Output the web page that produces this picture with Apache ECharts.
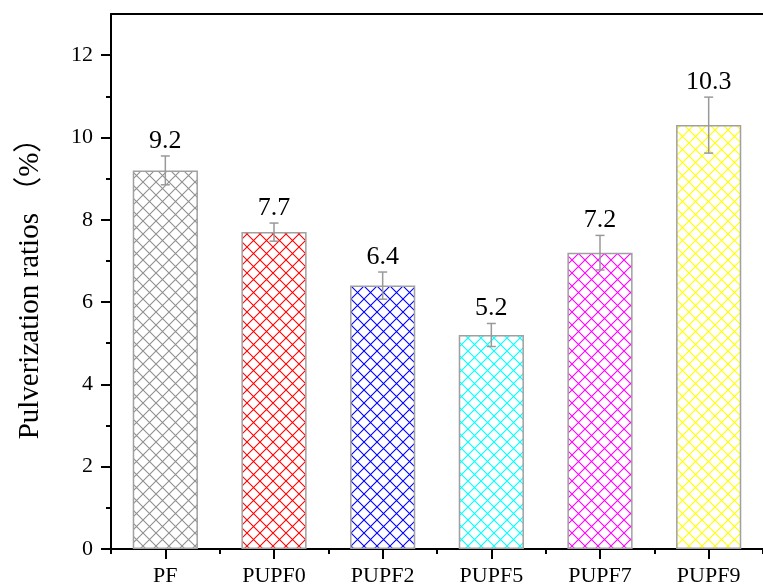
<!DOCTYPE html>
<html>
<head>
<meta charset="utf-8">
<script src="https://cdn.jsdelivr.net/npm/echarts@6/dist/echarts.min.js"></script>
<style>
html,body{margin:0;padding:0;background:#fff;}
#chart{width:763px;height:588px;}
</style>
</head>
<body>
<div id="chart"></div>
<script>
const categories = ['PF', 'PUPF0', 'PUPF2', 'PUPF5', 'PUPF7', 'PUPF9'];
const values = [9.2, 7.7, 6.4, 5.2, 7.2, 10.3];
const errors = [0.35, 0.22, 0.33, 0.28, 0.42, 0.68];
const hatchColors = ['#909090', '#ff0000', '#0000ff', '#00ffff', '#ff00ff', '#ffff00'];
const yMajorTicks = [0, 2, 4, 6, 8, 10, 12];
const yMinorTicks = [1, 3, 5, 7, 9, 11];

const FONT = '"Liberation Serif", "Times New Roman", serif';

function hatch(color) {
  const s = 13;
  const c = document.createElement('canvas');
  c.width = s; c.height = s;
  const g = c.getContext('2d');
  g.fillStyle = '#ffffff';
  g.fillRect(0, 0, s, s);
  g.strokeStyle = color;
  g.lineWidth = 1.1;
  g.beginPath();
  g.moveTo(-1, -1); g.lineTo(s + 1, s + 1);
  g.moveTo(s + 1, -1); g.lineTo(-1, s + 1);
  g.stroke();
  return c;
}

const chart = echarts.init(document.getElementById('chart'));

const barData = values.map((v, i) => ({
  value: v,
  itemStyle: {
    color: { image: hatch(hatchColors[i]), repeat: 'repeat' },
    borderColor: '#a0a0a0',
    borderWidth: 1.5
  }
}));

const errData = values.map((v, i) => [i, v, errors[i]]);

const option = {
  animation: false,
  backgroundColor: '#ffffff',
  grid: { left: 111, right: 0, top: 14, bottom: 39, containLabel: false },
  xAxis: [
    {
      type: 'category',
      data: categories,
      position: 'bottom',
      boundaryGap: true,
      axisLine: { show: true, lineStyle: { color: '#000', width: 2 } },
      axisTick: { show: true, alignWithLabel: true, length: 10, inside: false, lineStyle: { color: '#000', width: 2 } },
      axisLabel: { show: true, margin: 16, fontFamily: FONT, fontSize: 22, color: '#000' },
      splitLine: { show: false }
    },
    {
      type: 'category',
      data: categories,
      position: 'bottom',
      boundaryGap: true,
      axisLine: { show: false },
      axisTick: { show: true, alignWithLabel: false, length: 5, lineStyle: { color: '#000', width: 2 } },
      axisLabel: { show: false },
      splitLine: { show: false }
    },
    {
      type: 'category',
      data: categories,
      position: 'top',
      axisLine: { show: true, lineStyle: { color: '#000', width: 2 } },
      axisTick: { show: false },
      axisLabel: { show: false },
      splitLine: { show: false }
    }
  ],
  yAxis: [
    {
      type: 'value',
      min: 0,
      max: 13,
      position: 'left',
      name: 'Pulverization ratios （%）',
      nameLocation: 'middle',
      nameGap: 66,
      nameTextStyle: { fontFamily: FONT + ', "Noto Sans CJK SC"', fontSize: 29, color: '#000' },
      axisLine: { show: true, lineStyle: { color: '#000', width: 2 } },
      axisTick: { show: true, length: 10, customValues: yMajorTicks, lineStyle: { color: '#000', width: 2 } },
      axisLabel: { show: true, margin: 18, customValues: yMajorTicks, fontFamily: FONT, fontSize: 22, color: '#000' },
      splitLine: { show: false }
    },
    {
      type: 'value',
      min: 0,
      max: 13,
      position: 'left',
      axisLine: { show: false },
      axisTick: { show: true, length: 5, customValues: yMinorTicks, lineStyle: { color: '#000', width: 2 } },
      axisLabel: { show: false },
      splitLine: { show: false }
    }
  ],
  series: [
    {
      type: 'bar',
      xAxisIndex: 0,
      yAxisIndex: 0,
      barWidth: '60%',
      data: barData,
      z: 2
    },
    {
      type: 'custom',
      xAxisIndex: 0,
      yAxisIndex: 0,
      z: 5,
      data: errData,
      renderItem: function (params, api) {
        const i = api.value(0);
        const v = api.value(1);
        const e = api.value(2);
        const top = api.coord([i, v + e]);
        const bot = api.coord([i, v - e]);
        const half = 4.5;
        const st = { stroke: '#999999', lineWidth: 1.5 };
        return {
          type: 'group',
          children: [
            { type: 'line', shape: { x1: top[0], y1: top[1], x2: bot[0], y2: bot[1] }, style: st },
            { type: 'line', shape: { x1: top[0] - half, y1: top[1], x2: top[0] + half, y2: top[1] }, style: st },
            { type: 'line', shape: { x1: bot[0] - half, y1: bot[1], x2: bot[0] + half, y2: bot[1] }, style: st },
            {
              type: 'text',
              style: {
                x: top[0],
                y: top[1] - 2,
                text: String(v),
                fontFamily: FONT,
                fontSize: 26,
                fill: '#000',
                align: 'center',
                verticalAlign: 'bottom'
              }
            }
          ]
        };
      }
    }
  ]
};

chart.setOption(option);
</script>
</body>
</html>
